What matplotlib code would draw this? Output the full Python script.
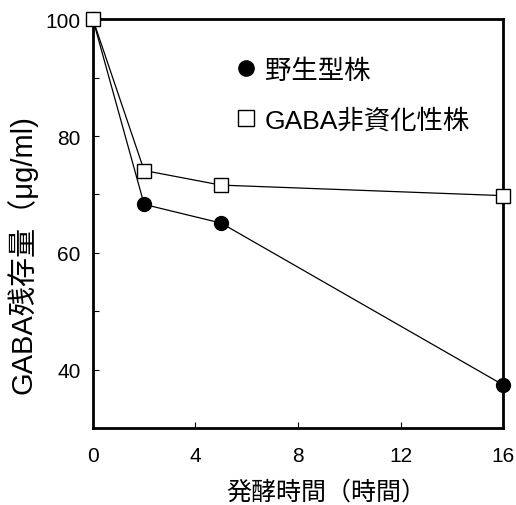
import matplotlib
matplotlib.use("Agg")
import matplotlib.pyplot as plt
from matplotlib.lines import Line2D

# fermentation time (h) and remaining GABA (ug/ml)
hours = [0, 2, 5, 16]
wild_type = [100, 68.3, 65.1, 37.4]
non_assim = [100, 74.1, 71.6, 69.8]
labels = ["野生型株", "GABA非資化性株"]

x_ticks = [0, 4, 8, 12, 16]
y_ticks = [40, 60, 80, 100]
y_minor = [50, 70, 90]

plt.rcParams['font.family'] = ['Liberation Sans', 'Noto Sans CJK JP']

fig, ax = plt.subplots(figsize=(5.16, 5.06), dpi=100)
fig.subplots_adjust(left=0.180, right=0.975, top=0.960, bottom=0.152)

ax.plot(hours, wild_type, color="black", linewidth=0.9, marker="o",
        markersize=10, markerfacecolor="black", markeredgecolor="black",
        clip_on=False, zorder=3)
ax.plot(hours, non_assim, color="black", linewidth=0.9, marker="s",
        markersize=10, markerfacecolor="white", markeredgecolor="black",
        markeredgewidth=1.0, clip_on=False, zorder=4)

ax.set_xlim(0, 16)
ax.set_ylim(30, 100)
ax.set_xticks(x_ticks)
ax.set_yticks(y_ticks)
ax.set_yticks(y_minor, minor=True)
ax.tick_params(axis="x", which="major", direction="in", length=4,
               width=0.8, labelsize=15, pad=13)
ax.tick_params(axis="y", which="major", direction="in", length=4,
               width=0.8, labelsize=15, pad=9)
ax.tick_params(axis="y", which="minor", direction="in", length=4, width=0.8)

for s in ax.spines.values():
    s.set_linewidth(2)

ax.set_xlabel("発酵時間（時間）", fontsize=18)
ax.xaxis.set_label_coords(0.568, -0.125)
ax.set_ylabel("GABA残存量（μg/ml)", fontsize=21)
ax.yaxis.set_label_coords(-0.135, 0.428)

# legend: markers only
handles = [
    Line2D([], [], linestyle="none", marker="o", markersize=11,
           markerfacecolor="black", markeredgecolor="black"),
    Line2D([], [], linestyle="none", marker="s", markersize=11,
           markerfacecolor="white", markeredgecolor="black"),
]
ax.legend(handles, labels, loc="upper left", bbox_to_anchor=(0.355, 0.905),
          frameon=False, handlelength=0.6, handletextpad=0.4,
          borderpad=0, borderaxespad=0, labelspacing=0.97, fontsize=19)

fig.savefig("out.png", dpi=100)
